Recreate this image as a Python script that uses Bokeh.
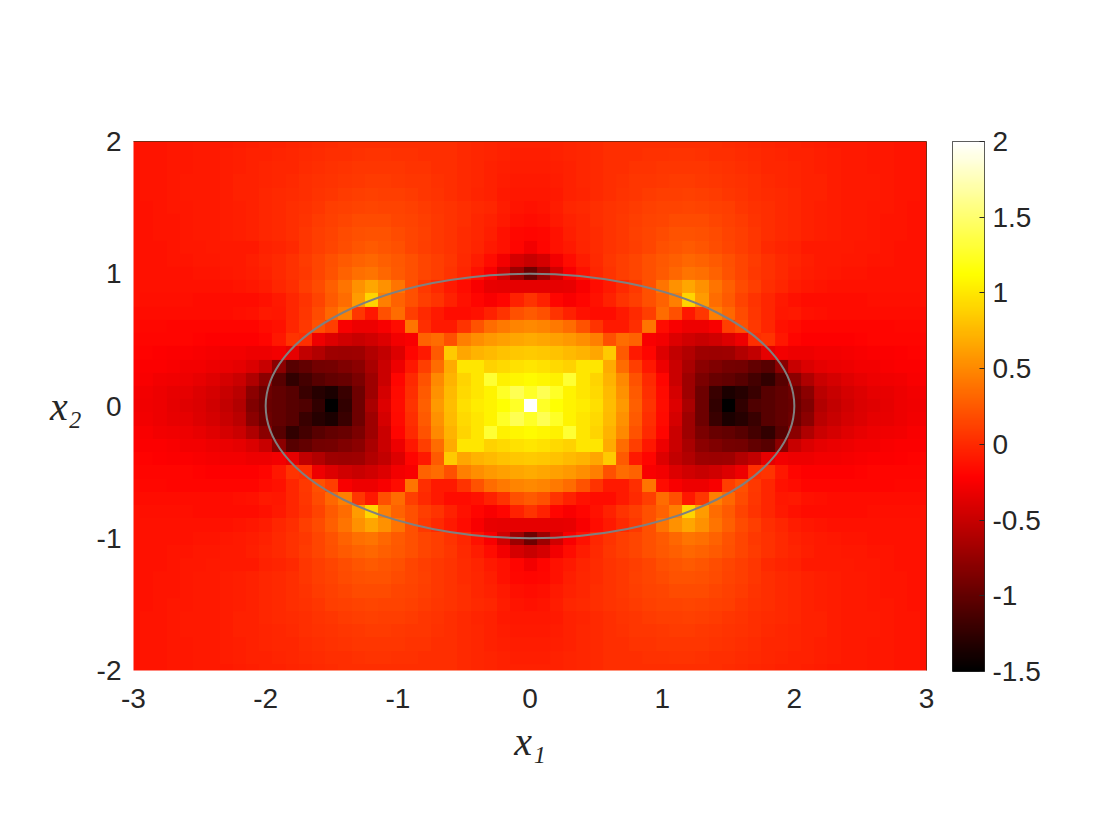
import numpy as np
from bokeh.plotting import figure
from bokeh.layouts import row
from bokeh.models import LinearColorMapper, FixedTicker, Range1d, LinearAxis
from bokeh.embed import file_html
from bokeh.resources import INLINE

# Field, upper right quadrant (it is mirrored in both axes).
# Values in hundredths; x = 0, 0.1 ... 3.0 along each row.
y200 = [-5,-5,-4,-3,-2,0,2,2,3,3,3,3,3,3,2,1,0,-1,-3,-4,-5,-6,-7,-8,-9,-9,-10,-10,-11,-11,-12]
y190 = [-6,-6,-5,-3,-2,0,2,3,3,4,4,5,5,4,3,2,1,0,-2,-3,-4,-5,-6,-7,-8,-9,-10,-10,-11,-11,-12]
y180 = [-7,-7,-6,-4,-2,0,2,3,5,5,6,6,6,6,5,4,2,1,-1,-2,-3,-5,-6,-7,-8,-9,-10,-10,-11,-11,-12]
y170 = [-8,-8,-7,-5,-2,0,3,4,6,7,8,9,9,8,7,5,4,2,0,-1,-3,-4,-5,-7,-8,-9,-9,-10,-11,-11,-12]
y160 = [-10,-10,-8,-5,-3,0,3,5,7,9,10,11,12,11,9,7,5,3,1,0,-2,-4,-5,-7,-8,-8,-9,-10,-11,-11,-12]
y150 = [-12,-11,-7,-2,0,2,5,7,9,12,13,14,15,14,12,10,7,4,2,0,-2,-5,-6,-7,-8,-9,-10,-10,-11,-12,-12]
y140 = [-15,-14,-9,-5,-1,2,5,8,10,13,15,17,18,17,15,12,9,5,2,0,-2,-5,-6,-7,-8,-9,-10,-11,-11,-12,-12]
y130 = [-20,-18,-12,-6,-2,1,5,8,12,15,18,21,22,20,17,14,10,6,3,0,-2,-5,-6,-7,-8,-9,-10,-11,-11,-12,-13]
y120 = [-28,-20,-13,-8,-3,1,5,8,11,15,20,23,25,23,19,15,10,6,0,-3,-5,-8,-8,-9,-9,-10,-10,-11,-12,-12,-13]
y110 = [-50,-42,-28,-15,-7,0,6,10,15,20,24,28,32,30,26,20,15,9,4,0,-3,-6,-8,-9,-10,-10,-11,-11,-12,-12,-13]
y100 = [-95,-72,-45,-25,-12,-2,5,10,15,20,25,32,40,37,30,22,15,8,4,0,-4,-7,-9,-10,-11,-11,-12,-12,-12,-13,-13]
y090 = [-35,-35,-35,-33,-25,-15,-8,0,8,20,40,55,65,55,40,28,18,10,3,-2,-7,-10,-11,-12,-12,-12,-13,-13,-13,-13,-13]
y080 = [5,-5,-20,-25,-20,-12,-5,5,10,20,30,45,90,60,35,25,14,5,-2,-8,-12,-15,-15,-15,-15,-15,-14,-14,-14,-14,-13]
y070 = [25,20,5,-5,-12,-15,-15,-8,0,10,35,20,-10,7,45,32,18,7,-2,-10,-8,-12,-14,-15,-15,-16,-16,-16,-16,-16,-15]
y060 = [50,47,42,35,22,5,-8,-8,2,40,-15,-25,-30,-30,-25,10,20,8,-2,-12,-15,-19,-19,-20,-20,-20,-19,-19,-18,-18,-17]
y050 = [68,66,62,58,53,45,20,35,30,-25,-28,-38,-45,-50,-45,-38,-30,2,5,-10,-20,-22,-22,-22,-22,-21,-20,-20,-19,-19,-18]
y040 = [85,83,80,76,72,65,85,25,-8,-20,-38,-52,-60,-70,-72,-70,-60,-52,-35,-28,-30,-30,-28,-27,-26,-25,-24,-23,-22,-21,-20]
y030 = [100,97,93,88,100,100,68,35,10,-10,-30,-48,-65,-80,-85,-90,-92,-100,-105,-80,-50,-40,-35,-32,-30,-28,-27,-25,-24,-23,-22]
y020 = [110,108,105,130,100,90,72,50,22,0,-20,-48,-70,-88,-98,-100,-105,-115,-125,-105,-80,-62,-48,-42,-37,-33,-31,-29,-27,-25,-24]
y010 = [125,140,125,107,100,92,76,55,25,3,-17,-42,-70,-95,-120,-135,-130,-120,-105,-100,-95,-80,-57,-50,-43,-38,-35,-33,-30,-28,-26]
y000 = [200,125,113,107,102,95,78,58,28,5,-15,-38,-65,-95,-125,-150,-125,-110,-105,-100,-98,-85,-60,-52,-45,-40,-37,-34,-31,-29,-27]

rows = [y000,y010,y020,y030,y040,y050,y060,y070,y080,y090,y100,
        y110,y120,y130,y140,y150,y160,y170,y180,y190,y200]

x_ticks = [-3,-2,-1,0,1,2,3]
y_ticks = [-2,-1,0,1,2]
cb_ticks = [-1.5,-1,-0.5,0,0.5,1,1.5,2]
cb_labels = ["-1.5","-1","-0.5","0","0.5","1","1.5","2"]
ellipse_axes = [4, 2]
cb_low, cb_high = -1.5, 2

quad = np.array(rows, dtype=float) / 100
right = np.vstack([quad[:0:-1], quad])
field = np.hstack([right[:, :0:-1], right])

# MATLAB "hot"
t = np.linspace(0, 1, 256)
r = np.clip(t / 0.365, 0, 1); g = np.clip((t - 0.365) / 0.385, 0, 1); b = np.clip((t - 0.75) / 0.25, 0, 1)
hot = ["#%02x%02x%02x" % (int(a*255), int(c*255), int(d*255)) for a, c, d in zip(r, g, b)]
mapper = LinearColorMapper(palette=hot, low=cb_low, high=cb_high)

FONT = "Liberation Sans"; TXT = "#262626"
p = figure(frame_width=793, frame_height=529,
           x_range=Range1d(-3, 3), y_range=Range1d(-2, 2),
           output_backend="svg", toolbar_location=None,
           min_border_left=133, min_border_top=141, min_border_bottom=140, min_border_right=26)
p.grid.visible = False
p.outline_line_color = None
p.image(image=[field], x=-3.05, y=-2.05, dw=6.1, dh=4.1, color_mapper=mapper)
p.ellipse(x=[0], y=[0], width=[ellipse_axes[0]], height=[ellipse_axes[1]],
          fill_color=None, line_color="#808080", line_width=2)

for ax, ticks in ((p.xaxis[0], x_ticks), (p.yaxis[0], y_ticks)):
    ax.ticker = FixedTicker(ticks=ticks)
    ax.major_label_overrides = {k: str(k) for k in ticks}
    ax.major_label_text_font = FONT
    ax.major_label_text_font_size = "28px"
    ax.major_label_text_color = TXT
    ax.major_tick_line_color = None
    ax.minor_tick_line_color = None
    ax.axis_line_color = None
    ax.axis_label_text_font = "Liberation Serif"
    ax.axis_label_text_font_style = "italic"
    ax.axis_label_text_font_size = "40px"
    ax.axis_label_text_color = TXT
p.xaxis[0].axis_label = "x\u2081"
p.yaxis[0].axis_label = "x\u2082"
p.yaxis[0].axis_label_orientation = "horizontal"
p.xaxis[0].major_label_standoff = 12
p.yaxis[0].major_label_standoff = 6
p.xaxis[0].axis_label_standoff = 8
p.yaxis[0].axis_label_standoff = 12

for side in ("above", "right"):
    edge = LinearAxis(ticker=FixedTicker(ticks=[]), axis_line_color="#7a2a14", axis_line_width=1,
                      major_label_text_font_size="0px", major_tick_line_color=None, minor_tick_line_color=None)
    p.add_layout(edge, side)

# Colour bar as a figure of its own, so that its labels are not clipped by the frame
cb = figure(frame_width=32, frame_height=530, x_range=Range1d(0, 1), y_range=Range1d(cb_low, cb_high),
            y_axis_location="right", output_backend="svg", toolbar_location=None,
            min_border_left=0, min_border_top=141, min_border_bottom=139, min_border_right=70)
cb.grid.visible = False
cb.xaxis.visible = False
ramp = np.linspace(cb_low, cb_high, 256).reshape(-1, 1)
cb.image(image=[ramp], x=0, y=cb_low, dw=1, dh=cb_high - cb_low, color_mapper=mapper)
cb.outline_line_color = "#262626"
ya = cb.yaxis[0]
ya.ticker = FixedTicker(ticks=cb_ticks)
ya.major_label_overrides = {k: v for k, v in zip(cb_ticks, cb_labels)}
ya.major_label_text_font = FONT
ya.major_label_text_font_size = "28px"
ya.major_label_text_color = TXT
ya.major_label_standoff = 8
ya.major_tick_in = 5
ya.major_tick_out = 0
ya.major_tick_line_color = "#262626"
ya.minor_tick_line_color = None
ya.axis_line_color = None

open("out.html", "w").write(file_html(row(p, cb), INLINE))
